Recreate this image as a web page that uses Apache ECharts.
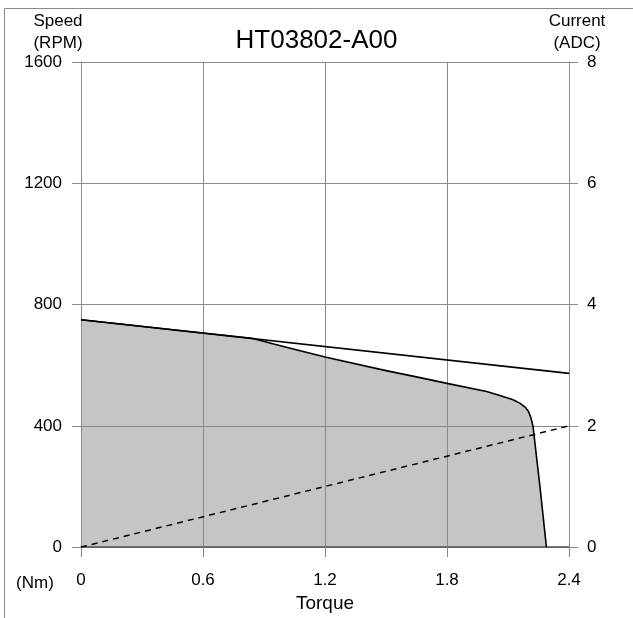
<!DOCTYPE html>
<html>
<head>
<meta charset="utf-8">
<script src="https://cdn.jsdelivr.net/npm/echarts@6/dist/echarts.min.js"></script>
<style>
html,body{margin:0;padding:0;background:#fff;}
#c{width:633px;height:618px;}
</style>
</head>
<body>
<div id="c"></div>
<script>
// Data
var torqueTicks = [0, 0.6, 1.2, 1.8, 2.4];
var speedTicks = [0, 400, 800, 1200, 1600];
var currentTicks = [0, 2, 4, 6, 8];

// Continuous (rated) speed line: torque (Nm), speed (RPM)
var ratedTorque = [0, 2.4];
var ratedSpeed = [750, 573];

// Intermittent operating envelope (gray area)
var envTorque = [0, 0.6, 0.84, 1.0, 1.2, 1.5, 1.667, 1.8, 1.995, 2.06, 2.125, 2.16, 2.185, 2.2, 2.21, 2.217, 2.223, 2.257, 2.289];
var envSpeed  = [750, 706, 689, 661, 627, 582, 559, 540, 513, 500, 486, 474, 461, 448, 432, 415, 398, 200, 0];

// Current line: torque (Nm), current (ADC)
var currTorque = [0, 2.4];
var currValue = [0, 2];

function pairs(xs, ys){ return xs.map(function(x,i){ return [x, ys[i]]; }); }
function pick(ticks){ return function(v){ var t = ticks.find(function(t){return Math.abs(t-v)<1e-6;}); return t === undefined ? '' : String(t); }; }

var FONT = 'Liberation Sans, Arial, sans-serif';
var chart = echarts.init(document.getElementById('c'), null, {renderer:'canvas'});
var gridColor = '#8a8a8a';

chart.setOption({
  animation: false,
  backgroundColor: '#fff',
  title: {
    text: 'HT03802-A00',
    left: 'center',
    top: 23,
    textStyle: {fontFamily: FONT, fontSize: 26, fontWeight: 'normal', color: '#000'}
  },
  grid: {left: 81, right: 64, top: 62, bottom: 66, containLabel: false},
  xAxis: {
    type: 'value', min: 0, max: 2.4, interval: 0.6,
    name: 'Torque', nameLocation: 'middle', nameGap: 45,
    nameTextStyle: {fontFamily: FONT, fontSize: 19, color: '#000'},
    axisLine: {show: true, lineStyle: {color: '#555', width: 1.5}},
    axisTick: {show: true, length: 10, lineStyle: {color: gridColor}},
    axisLabel: {fontFamily: FONT, fontSize: 17, color: '#000', margin: 25, formatter: pick(torqueTicks)},
    splitLine: {show: true, lineStyle: {color: gridColor, width: 1}}
  },
  yAxis: [
    {
      type: 'value', min: 0, max: 1600, interval: 400,
      axisLine: {show: true, lineStyle: {color: gridColor, width: 1}},
      axisTick: {show: true, length: 9, lineStyle: {color: gridColor}},
      axisLabel: {fontFamily: FONT, fontSize: 17, color: '#000', margin: 19, formatter: pick(speedTicks)},
      splitLine: {show: true, lineStyle: {color: gridColor, width: 1}}
    },
    {
      type: 'value', min: 0, max: 8, interval: 2, position: 'right',
      axisLine: {show: true, lineStyle: {color: gridColor, width: 1}},
      axisTick: {show: true, length: 9, lineStyle: {color: gridColor}},
      axisLabel: {fontFamily: FONT, fontSize: 17, color: '#000', margin: 18, formatter: pick(currentTicks)},
      splitLine: {show: false}
    }
  ],
  series: [
    {
      name: 'envelopeFill', type: 'line', z: -1, yAxisIndex: 0,
      data: pairs(envTorque, envSpeed),
      symbol: 'none', smooth: false,
      lineStyle: {width: 0, opacity: 0},
      areaStyle: {color: '#c4c5c4', opacity: 1, origin: 'start'}
    },
    {
      name: 'envelope', type: 'line', yAxisIndex: 0,
      data: pairs(envTorque, envSpeed),
      symbol: 'none', smooth: false,
      lineStyle: {color: '#000', width: 1.6, join: 'round'}
    },
    {
      name: 'rated', type: 'line', yAxisIndex: 0,
      data: pairs(ratedTorque, ratedSpeed),
      symbol: 'none',
      lineStyle: {color: '#000', width: 1.6}
    },
    {
      name: 'current', type: 'line', yAxisIndex: 1,
      data: pairs(currTorque, currValue),
      symbol: 'none',
      lineStyle: {color: '#000', width: 1.5, type: [6, 5]}
    }
  ],
  graphic: [
    {type: 'line', shape: {x1: 4.5, y1: 8.5, x2: 633, y2: 8.5}, style: {stroke: '#888', lineWidth: 1}},
    {type: 'line', shape: {x1: 4.5, y1: 8.5, x2: 4.5, y2: 618}, style: {stroke: '#888', lineWidth: 1}},
    {type: 'text', x: 58, y: 21, style: {text: 'Speed', font: '17px ' + FONT, fill: '#000', textAlign: 'center', textVerticalAlign: 'middle'}},
    {type: 'text', x: 58, y: 43, style: {text: '(RPM)', font: '17px ' + FONT, fill: '#000', textAlign: 'center', textVerticalAlign: 'middle'}},
    {type: 'text', x: 577, y: 21, style: {text: 'Current', font: '17px ' + FONT, fill: '#000', textAlign: 'center', textVerticalAlign: 'middle'}},
    {type: 'text', x: 577, y: 43, style: {text: '(ADC)', font: '17px ' + FONT, fill: '#000', textAlign: 'center', textVerticalAlign: 'middle'}},
    {type: 'text', x: 35, y: 583, style: {text: '(Nm)', font: '17px ' + FONT, fill: '#000', textAlign: 'center', textVerticalAlign: 'middle'}}
  ]
});
</script>
</body>
</html>
